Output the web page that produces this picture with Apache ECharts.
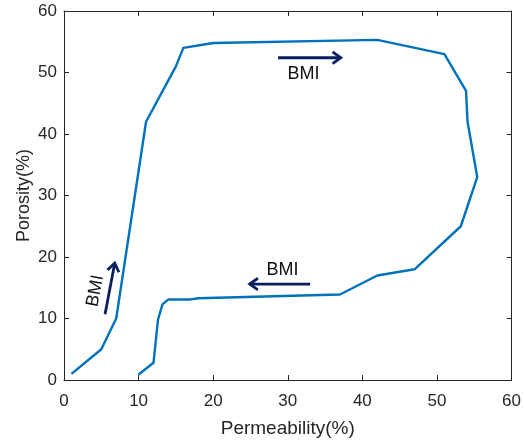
<!DOCTYPE html>
<html>
<head>
<meta charset="utf-8">
<script src="https://cdn.jsdelivr.net/npm/echarts@6/dist/echarts.min.js"></script>
<style>
  html, body { margin: 0; padding: 0; background: #fff; }
  #chart { width: 524px; height: 445px; }
</style>
</head>
<body>
<div id="chart"></div>
<script>
// Porosity vs permeability loop, traced as one continuous path
const permeability = [1, 5, 7, 11, 15, 16, 20, 42, 51, 53.9, 54.1, 55.4, 53.2, 47, 42, 37, 18, 17, 14, 13.2, 12.6, 12, 10];
const porosity     = [1, 5, 10, 42, 51, 54, 54.8, 55.3, 53, 47, 42, 33, 25, 18, 17, 13.9, 13.3, 13.1, 13.1, 12.3, 9.8, 2.8, 0.9];

// Direction arrows: start point, end point (x = permeability, y = porosity)
const arrowStartX = [28.7, 33.0, 5.5];
const arrowStartY = [52.4, 15.6, 10.7];
const arrowEndX   = [37.1, 24.9, 6.8];
const arrowEndY   = [52.4, 15.6, 19.0];

// Arrow captions and where they sit
const arrowText   = ['BMI', 'BMI', 'BMI'];
const textX       = [32.1, 29.3, 4.2];
const textY       = [49.8, 17.9, 14.5];

const tickValues = [0, 10, 20, 30, 40, 50, 60];

const pathData = permeability.map((x, i) => [x, porosity[i]]);
const arrowData = arrowStartX.map((x, i) => [x, arrowStartY[i], arrowEndX[i], arrowEndY[i], textX[i], textY[i], i]);

const axisColor = '#262626';
const fontFamily = '"Liberation Sans", Arial, Helvetica, sans-serif';

const chart = echarts.init(document.getElementById('chart'), null, { renderer: 'canvas' });

function baseAxis(extra) {
  return Object.assign({
    type: 'value',
    min: tickValues[0],
    max: tickValues[tickValues.length - 1],
    interval: tickValues[1] - tickValues[0],
    axisLine: { show: true, onZero: false, lineStyle: { color: axisColor, width: 1 } },
    axisTick: { show: true, inside: true, length: 5, lineStyle: { color: axisColor, width: 1 } },
    splitLine: { show: false },
    axisLabel: { show: false }
  }, extra);
}

chart.setOption({
  animation: false,
  backgroundColor: '#ffffff',
  grid: { left: 64, right: 10, top: 11, bottom: 65, containLabel: false },
  xAxis: [
    baseAxis({
      position: 'bottom',
      name: 'Permeability(%)',
      nameLocation: 'middle',
      nameGap: 39,
      nameMoveOverlap: false,
      nameTextStyle: { color: axisColor, fontSize: 19, fontFamily: fontFamily },
      axisLabel: { show: true, color: axisColor, fontSize: 17, fontFamily: fontFamily, margin: 13 }
    }),
    baseAxis({ position: 'top' })
  ],
  yAxis: [
    baseAxis({
      position: 'left',
      name: 'Porosity(%)',
      nameLocation: 'middle',
      nameGap: 31,
      nameMoveOverlap: false,
      nameTextStyle: { color: axisColor, fontSize: 18, fontFamily: fontFamily },
      axisLabel: { show: true, color: axisColor, fontSize: 17, fontFamily: fontFamily, margin: 7 }
    }),
    baseAxis({ position: 'right' })
  ],
  series: [
    {
      type: 'line',
      data: pathData,
      showSymbol: false,
      symbol: 'none',
      lineStyle: { color: '#0072BD', width: 2.4, join: 'round' },
      z: 2
    },
    {
      type: 'custom',
      coordinateSystem: 'cartesian2d',
      data: arrowData,
      z: 3,
      renderItem: function (params, api) {
        const p0 = api.coord([api.value(0), api.value(1)]);
        const p1 = api.coord([api.value(2), api.value(3)]);
        const tp = api.coord([api.value(4), api.value(5)]);
        const idx = api.value(6);
        const ang = Math.atan2(p1[1] - p0[1], p1[0] - p0[0]);
        const headLen = 10, spread = 0.62;
        const h1 = [p1[0] - headLen * Math.cos(ang - spread), p1[1] - headLen * Math.sin(ang - spread)];
        const h2 = [p1[0] - headLen * Math.cos(ang + spread), p1[1] - headLen * Math.sin(ang + spread)];
        const stroke = { stroke: '#0b1f5e', lineWidth: 2.8, fill: null, lineCap: 'butt', lineJoin: 'miter' };
        // Text follows the arrow direction when the arrow is steep
        const steep = Math.abs(p1[1] - p0[1]) > Math.abs(p1[0] - p0[0]);
        const rot = steep ? -Math.atan2(p1[1] - p0[1], p1[0] - p0[0]) : 0;
        return {
          type: 'group',
          children: [
            { type: 'polyline', shape: { points: [p0, p1] }, style: stroke },
            { type: 'polyline', shape: { points: [h1, p1, h2] }, style: stroke },
            {
              type: 'text',
              x: tp[0], y: tp[1],
              rotation: rot,
              style: {
                text: arrowText[idx],
                fill: '#111111',
                font: '18px ' + fontFamily,
                align: 'center',
                verticalAlign: 'middle'
              }
            }
          ]
        };
      }
    }
  ]
});
</script>
</body>
</html>
